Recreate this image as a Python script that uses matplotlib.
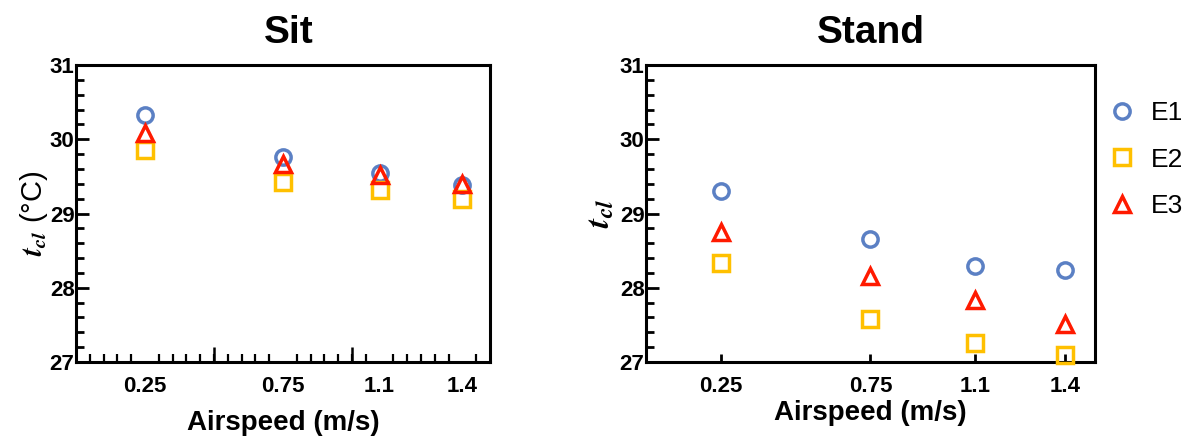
import matplotlib
matplotlib.use("Agg")
import matplotlib.pyplot as plt
from matplotlib.ticker import MultipleLocator

airspeed = [0.25, 0.75, 1.1, 1.4]
xtick_labels = ["0.25", "0.75", "1.1", "1.4"]
series = ["E1", "E2", "E3"]

sit_e1 = [30.32, 29.76, 29.55, 29.39]
sit_e2 = [29.86, 29.43, 29.31, 29.19]
sit_e3 = [30.08, 29.66, 29.52, 29.40]

stand_e1 = [29.30, 28.66, 28.29, 28.24]
stand_e2 = [28.33, 27.58, 27.26, 27.09]
stand_e3 = [28.75, 28.16, 27.84, 27.51]

plt.rcParams["mathtext.fontset"] = "stix"

colors = {"E1": "#5b80c4", "E2": "#ffc000", "E3": "#ff1a00"}
markers = {"E1": "o", "E2": "s", "E3": "^"}

fig = plt.figure(figsize=(11.98, 4.37), dpi=100)
W, H = 1198, 437
axL = fig.add_axes([76 / W, 1 - 362 / H, (490 - 76) / W, (362 - 65) / H])
axR = fig.add_axes([646 / W, 1 - 362 / H, (1095 - 646) / W, (362 - 65) / H])

tickfont = dict(family="Liberation Sans", weight="bold", size=16)

def style(ax, dense_x):
    ax.set_xlim(0, 1.5)
    ax.set_ylim(27, 31)
    for s in ax.spines.values():
        s.set_linewidth(2.2)
    ax.yaxis.set_minor_locator(MultipleLocator(0.2))
    ax.tick_params(axis="y", which="major", direction="in", length=9, width=2, pad=1)
    ax.tick_params(axis="y", which="minor", direction="in", length=6, width=2)
    ax.set_yticks([27, 28, 29, 30, 31])
    ax.set_yticklabels(["27", "28", "29", "30", "31"], fontdict=tickfont)
    ax.tick_params(axis="y", right=False, which="both")
    ax.set_xticks(airspeed)
    ax.set_xticklabels(xtick_labels, fontdict=tickfont)
    if dense_x:
        ax.tick_params(axis="x", which="major", length=0, pad=10)
        ax.set_xticks([i * 0.05 for i in range(1, 30)], minor=True)
        ax.tick_params(axis="x", which="minor", direction="in", length=6, width=1.6)
        sec = ax.secondary_xaxis("bottom")
        sec.set_xticks([0.5, 1.0])
        sec.set_xticklabels(["", ""])
        sec.tick_params(direction="in", length=11, width=1.8)
        sec.spines["bottom"].set_visible(False)
    else:
        ax.tick_params(axis="x", which="major", direction="in", length=6, width=2, pad=10)
    ax.tick_params(axis="x", top=False, which="both")

style(axL, True)
style(axR, False)

def plot(ax, data):
    for name, vals in zip(series, data):
        ax.plot(airspeed, vals, linestyle="none", marker=markers[name],
                markersize=11 if name != "E3" else 11.5, markerfacecolor="none",
                markeredgecolor=colors[name], markeredgewidth=2.5, label=name,
                clip_on=False, zorder=3)

plot(axL, [sit_e1, sit_e2, sit_e3])
plot(axR, [stand_e1, stand_e2, stand_e3])

fig.text(289 / W, 1 - 43 / H, "Sit", fontsize=28, fontweight="bold",
         family="Liberation Sans", ha="center", va="baseline")
fig.text(871 / W, 1 - 43 / H, "Stand", fontsize=28, fontweight="bold",
         family="Liberation Sans", ha="center", va="baseline")

axL.set_xlabel("Airspeed (m/s)", fontsize=20, family="Liberation Sans", fontweight="bold")
axR.set_xlabel("Airspeed (m/s)", fontsize=20, family="Liberation Sans", fontweight="bold")
axL.xaxis.set_label_coords(0.5, -(410 - 362) / 297)
axR.xaxis.set_label_coords(0.5, -(400 - 362) / 297)

axL.set_ylabel(r"$\mathbfit{t_{cl}}$ (°C)", fontsize=21, family="Liberation Sans", labelpad=0)
axR.set_ylabel(r"$\mathbfit{t_{cl}}$", fontsize=24, labelpad=2)

leg = axR.legend(loc="upper left", bbox_to_anchor=(0.99, 0.94), frameon=False,
                 prop=dict(family="Liberation Sans", size=19), handletextpad=0.6,
                 labelspacing=0.85, borderaxespad=0.3, handlelength=1.0)

fig.savefig("out.png", dpi=100)
